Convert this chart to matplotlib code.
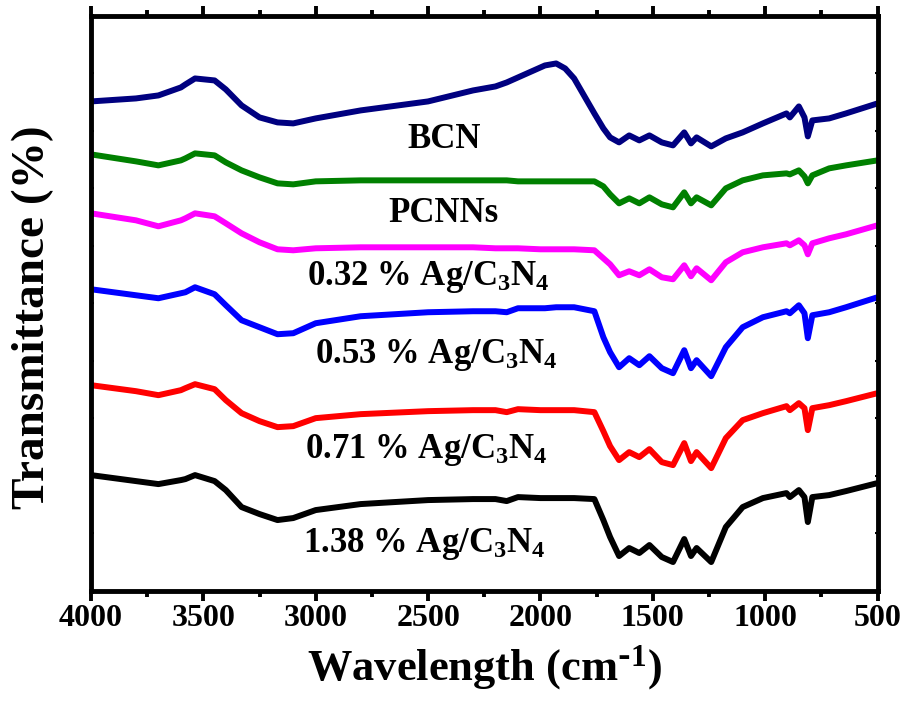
import matplotlib
matplotlib.use("Agg")
import matplotlib.pyplot as plt
import numpy as np
from matplotlib.ticker import MultipleLocator

plt.rcParams['font.family'] = ['Liberation Serif', 'DejaVu Serif']
plt.rcParams['font.weight'] = 'bold'
plt.rcParams['mathtext.default'] = 'regular'

# wavenumber grid (cm-1)
wavenumber = [4000, 3800, 3700, 3600, 3580, 3537, 3450, 3400, 3330, 3250, 3170, 3100,
              3000, 2800, 2500, 2300, 2200, 2150, 2100, 2000, 1980, 1930, 1890, 1850,
              1760, 1720, 1690, 1650, 1605, 1560, 1515, 1460, 1410, 1360, 1330, 1305,
              1240, 1175, 1100, 1010, 905, 890, 850, 825, 810, 790, 715, 640, 500]

# offset transmittance (arbitrary units)
t_bcn = [499, 502, 505, 513, 516, 522, 520, 511, 495, 483, 478, 477,
         482, 490, 499, 510, 514, 518, 523, 533, 535, 537, 532, 522,
         487, 472, 463, 458, 465, 460, 465, 458, 455, 468, 457, 463,
         454, 462, 468, 477, 487, 483, 494, 483, 464, 480, 482, 487, 497]
t_pcnn = [446, 439, 435, 440, 442, 447, 445, 438, 430, 423, 417, 416,
          419, 420, 420, 420, 420, 420, 419, 419, 419, 419, 419, 419,
          419, 414, 406, 397, 402, 397, 403, 396, 393, 408, 397, 403,
          395, 412, 420, 425, 427, 426, 430, 424, 417, 425, 432, 435, 440]
t_032 = [387, 380, 374, 380, 382, 387, 384, 377, 367, 358, 351, 350,
         352, 353, 353, 353, 352, 352, 352, 351, 351, 351, 351, 351,
         350, 342, 336, 325, 329, 325, 331, 323, 321, 335, 324, 332,
         320, 338, 348, 353, 357, 355, 360, 355, 346, 357, 362, 366, 375]
t_053 = [311, 305, 302, 307, 308, 313, 306, 295, 280, 273, 266, 267,
         277, 284, 288, 289, 289, 288, 292, 292, 292, 293, 293, 293,
         289, 263, 248, 233, 242, 235, 244, 232, 227, 250, 232, 240,
         224, 253, 273, 283, 289, 287, 295, 287, 262, 285, 288, 293, 303]
t_071 = [215, 209, 205, 210, 212, 216, 211, 200, 187, 179, 173, 174,
         182, 186, 189, 190, 190, 188, 191, 190, 190, 190, 190, 190,
         188, 169, 154, 140, 148, 143, 151, 138, 135, 157, 139, 148,
         132, 162, 180, 187, 194, 190, 197, 192, 170, 192, 195, 199, 207]
t_138 = [125, 119, 116, 120, 121, 125, 119, 110, 93, 86, 80, 82,
         90, 96, 100, 101, 101, 99, 103, 102, 102, 102, 102, 102,
         101, 80, 63, 44, 52, 47, 55, 43, 38, 61, 44, 52,
         38, 73, 93, 102, 107, 103, 110, 103, 78, 103, 105, 109, 117]

series = [t_bcn, t_pcnn, t_032, t_053, t_071, t_138]
colors = ['#000080', '#008000', '#FF00FF', '#0000FF', '#FF0000', '#000000']
labels = ['BCN', 'PCNNs', '0.32 % Ag/C$_3$N$_4$', '0.53 % Ag/C$_3$N$_4$',
          '0.71 % Ag/C$_3$N$_4$', '1.38 % Ag/C$_3$N$_4$']
label_x = [2430, 2430, 2501, 2464, 2508, 2515]
label_y = [452, 378, 315, 237, 142, 48]
label_size = [25, 25, 25, 25, 25, 25]

fig = plt.figure(figsize=(9.08, 7.04), dpi=100)
ax = fig.add_axes([91/908, 1-591/704, (877.5-91)/908, (591-15.5)/704])

for y, c in zip(series, colors):
    ax.plot(wavenumber, y, color=c, lw=4.3, solid_joinstyle='round', solid_capstyle='butt')

for lab, x, y, s in zip(labels, label_x, label_y, label_size):
    ax.text(x, y, lab, ha='center', va='baseline', fontsize=s, fontweight='bold')

ax.set_xlim(4000, 500)
ax.set_ylim(9, 585)
ax.xaxis.set_major_locator(MultipleLocator(500))
ax.xaxis.set_minor_locator(MultipleLocator(250))
ax.set_yticks(np.linspace(9, 585, 11))
ax.set_yticklabels([])

for sp in ax.spines.values():
    sp.set_linewidth(3.5)

ax.tick_params(axis='x', which='major', direction='out', length=7, width=2.8,
               labelsize=23, pad=2)
ax.tick_params(axis='x', which='minor', direction='out', length=4.5, width=2.8)
ax.tick_params(axis='x', which='both', top=True)
ax.tick_params(axis='y', which='major', direction='in', length=2, width=1.5,
               right=True)
for t in ax.get_xticklabels():
    t.set_fontweight('bold')

fig.text(484/908, 1-668/704, 'Wavelength (cm$^{\\text{-}1}$)', ha='center', va='center',
         fontsize=32, fontweight='bold')
fig.text(33/908, 1-317/704, 'Transmittance (%)', ha='center', va='center',
         rotation=90, fontsize=34, fontweight='bold')

fig.savefig('out.png', dpi=100)
